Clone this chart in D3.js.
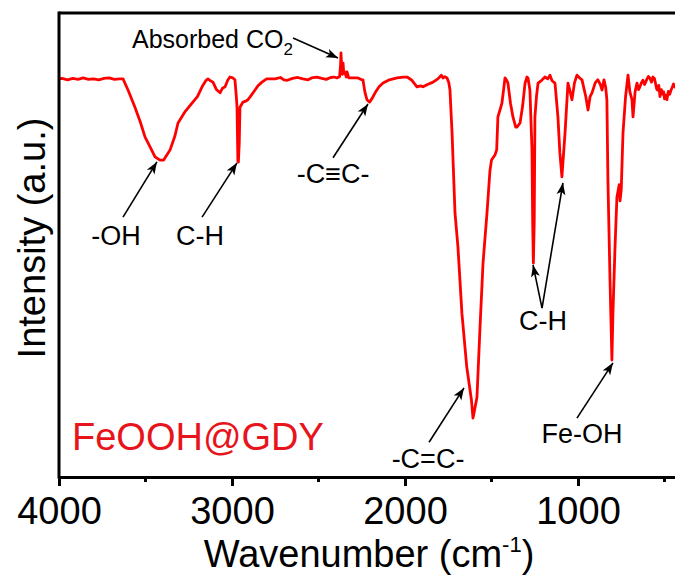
<!DOCTYPE html>
<html>
<head>
<meta charset="utf-8">
<script src="https://cdn.jsdelivr.net/npm/d3@7"></script>
<style>
  body { margin: 0; background: #fff; }
  svg { font-family: "Liberation Sans", Arial, sans-serif; }
</style>
</head>
<body>
<div id="chart"></div>
<script>
// FTIR spectrum of FeOOH@GDY
const wavenumber = [
  4000, 3983, 3950, 3920, 3890, 3860, 3830, 3800, 3770, 3740, 3710, 3680, 3650, 3630,
  3601, 3561, 3530, 3503, 3470, 3445, 3416, 3395, 3358, 3330, 3312, 3270, 3231, 3200,
  3173, 3150, 3139, 3125, 3110, 3090, 3069, 3055, 3040, 3025, 3012, 2995, 2983, 2975,
  2971, 2966, 2963, 2958, 2954, 2936, 2920, 2908, 2890, 2867, 2850, 2827, 2800, 2751,
  2720, 2700, 2680, 2650, 2620, 2590, 2560, 2540, 2510, 2480, 2455, 2430, 2410,
  2393, 2378, 2372, 2370, 2366, 2362, 2358, 2354,
  2347, 2340, 2335, 2325, 2318, 2290, 2272, 2250, 2243, 2232, 2220, 2205, 2190, 2173,
  2150, 2127, 2090, 2046, 2010, 1988, 1960, 1931, 1910, 1896, 1870, 1838, 1810, 1790,
  1780, 1770, 1757, 1747, 1740, 1728, 1711, 1694, 1671, 1643, 1616, 1607, 1600, 1584,
  1567, 1549, 1526, 1509, 1500, 1480, 1470, 1463, 1451, 1440, 1430, 1422, 1412, 1405,
  1390, 1376, 1360, 1353, 1335, 1320, 1306, 1295, 1289, 1278, 1266, 1262, 1258, 1253,
  1249, 1240, 1231, 1210, 1191, 1175, 1162, 1150, 1133, 1116, 1105, 1093, 1075, 1058,
  1045, 1035, 1020, 1006, 990, 977, 955, 942, 930, 919, 900, 885, 870, 861,
  850, 840, 833, 827, 815, 804, 798, 786, 775, 762, 757, 750, 740, 725,
  711, 700, 688, 682, 670, 659, 650, 642, 633, 625, 615, 601, 593, 585, 575, 567,
  558, 550, 545, 540, 533, 526, 518, 510, 505, 500, 493, 486, 478, 470,
  462, 455, 448, 440, 430, 420, 410, 400
];
const intensity = [
  85.8, 85.9, 85.6, 85.9, 85.7, 86.0, 85.7, 85.8, 85.6, 85.9, 86.0, 85.7, 85.8, 85.8,
  83.4, 79.7, 76.5, 73.3, 70.9, 69.0, 68.3, 68.3, 70.5, 73.5, 76.3, 78.8, 80.6, 82.0,
  84.1, 85.5, 85.8, 85.4, 85.1, 83.5, 82.8, 83.8, 84.1, 85.5, 86.2, 86.0, 85.6, 82.0,
  79.7, 68.0, 67.9, 72.0, 79.7, 80.8, 81.0, 81.3, 82.2, 83.4, 84.3, 85.1, 85.8, 85.8,
  86.1, 85.6, 85.5, 85.9, 86.1, 85.8, 85.6, 86.0, 86.2, 85.9, 85.7, 86.1, 86.2,
  86.0, 86.3, 89.0, 91.4, 88.0, 86.8, 89.2, 87.0,
  87.3, 86.2, 87.3, 86.0, 86.0, 86.0, 86.0, 85.6, 85.6, 83.0, 81.3, 80.8, 81.6, 82.8,
  84.1, 84.9, 85.6, 86.0, 86.2, 86.2, 85.5, 84.1, 84.3, 84.1, 84.6, 85.1, 85.8, 86.6,
  86.0, 86.3, 86.0, 85.0, 83.4, 74.1, 56.9, 49.6, 35.3, 23.7, 16.6, 12.7, 14.0, 17.2,
  31.7, 46.1, 56.9, 66.0, 68.3, 69.4, 70.5, 77.6, 79.1, 80.5, 83.5, 86.0, 85.5, 84.9,
  80.5, 77.6, 75.4, 75.4, 76.3, 80.0, 84.9, 86.2, 86.0, 83.4, 70.5, 55.0, 46.1, 55.0,
  77.6, 82.0, 84.9, 85.5, 86.2, 85.8, 86.6, 85.4, 84.9, 77.6, 70.0, 64.7, 74.1, 84.9,
  83.0, 81.3, 85.0, 86.6, 86.0, 85.6, 82.0, 79.1, 82.0, 82.8, 85.0, 85.6, 84.5, 83.4,
  85.6, 84.0, 81.3, 64.0, 42.5, 25.2, 35.3, 49.6, 60.3, 63.0, 59.5, 62.0, 74.1, 82.0,
  86.6, 83.0, 81.3, 77.6, 83.0, 84.9, 83.5, 84.1, 85.0, 85.5, 84.6, 85.8, 86.3, 86.0, 85.1, 86.2,
  85.9, 84.5, 83.6, 83.4, 84.4, 82.0, 83.5, 82.5, 83.0, 81.5, 82.3, 81.3, 83.1, 82.5,
  83.4, 84.0, 84.7, 84.1, 83.7, 84.5, 84.9, 84.8
];

const majorTicks = [4000, 3000, 2000, 1000];
const minorTicks = [3500, 2500, 1500, 500];

// peak labels: text, label anchor, arrow tail, arrow heads (wavenumber, intensity)
const annotations = [
  { text: '-OH',    at: [3671, 50.0], tail: [3630, 56.0], heads: [[3434, 67.9]] },
  { text: 'C-H',    at: [3185, 50.0], tail: [3173, 56.0], heads: [[2971, 67.7]] },
  { text: '-C\u2261C-', at: [2416, 63.4], tail: [2416, 68.8], heads: [[2214, 80.4]] },
  { text: '-C=C-',  at: [1867, 1.9],  tail: [1861, 7.5],  heads: [[1659, 19.2]] },
  { text: 'C-H',    at: [1202, 31.7], tail: [1208, 36.4], heads: [[1260, 45.7], [1087, 63.4]] },
  { text: 'Fe-OH',  at: [977, 7.3],   tail: [1006, 12.7], heads: [[798, 24.6]] }
];
const co2Label = { at: [3578, 92.5], tail: [2647, 94.6], head: [2387, 90.3] };
const sampleName = 'FeOOH@GDY';

const width = 675;
const height = 576;
const padLeft = 59;
const padTop = 13;
const padBottom = 477;

const svg = d3.select('#chart')
  .append('svg')
  .attr('width', width)
  .attr('height', height)

const x = d3.scaleLinear()
  .domain([4000, 400])
  .range([padLeft, padLeft + 3600 * 0.173])

const y = d3.scaleLinear()
  .domain([0, 100])
  .range([padBottom, padTop])

svg.append('defs')
  .append('marker')
  .attr('id', 'arrow')
  .attr('markerUnits', 'userSpaceOnUse')
  .attr('viewBox', '0 -5 12 10')
  .attr('refX', 12)
  .attr('refY', 0)
  .attr('markerWidth', 12)
  .attr('markerHeight', 10)
  .attr('orient', 'auto')
  .append('path')
  .attr('d', 'M0,-4.5L12,0L0,4.5L3,0Z')
  .attr('fill', '#000')

// spectrum
const line = d3.line()
  .x((d, i) => x(wavenumber[i]))
  .y(d => y(d))

svg.append('path')
  .datum(intensity)
  .attr('d', line)
  .attr('fill', 'none')
  .attr('stroke', '#ff0000')
  .attr('stroke-width', 2.8)
  .attr('stroke-linejoin', 'round')

// frame
svg.append('line')
  .attr('x1', padLeft).attr('x2', width)
  .attr('y1', padTop).attr('y2', padTop)
  .attr('stroke', '#000').attr('stroke-width', 3)

svg.append('line')
  .attr('x1', padLeft).attr('x2', padLeft)
  .attr('y1', padTop - 1.5).attr('y2', padBottom + 1.5)
  .attr('stroke', '#000').attr('stroke-width', 3)

const xAxis = d3.axisBottom(x)
  .tickValues(majorTicks)
  .tickFormat(d3.format('d'))
  .tickSize(9)
  .tickSizeOuter(0)
  .tickPadding(11)

const gx = svg.append('g')
  .attr('transform', `translate(0, ${padBottom})`)
  .call(xAxis)

gx.select('.domain').attr('stroke-width', 3)
gx.selectAll('.tick line').attr('stroke-width', 3)
gx.selectAll('.tick text')
  .attr('font-size', 38)
  .attr('font-family', '"Liberation Sans", Arial, sans-serif')
  .attr('fill', '#000')

gx.selectAll('.minor')
  .data(minorTicks)
  .enter()
  .append('line')
  .attr('x1', d => x(d)).attr('x2', d => x(d))
  .attr('y1', 0).attr('y2', 5)
  .attr('stroke', '#000')
  .attr('stroke-width', 3)

// axis titles
const xt = svg.append('text')
  .attr('x', 369)
  .attr('y', 567)
  .attr('text-anchor', 'middle')
  .attr('font-size', 38)
xt.append('tspan').text('Wavenumber (cm')
xt.append('tspan').attr('font-size', 22).attr('dy', -15).text('-1')
xt.append('tspan').attr('dy', 15).text(')')

svg.append('text')
  .attr('transform', 'translate(45, 238) rotate(-90)')
  .attr('text-anchor', 'middle')
  .attr('font-size', 38)
  .text('Intensity (a.u.)')

// peak annotations
annotations.forEach(a => {
  a.heads.forEach(h => {
    svg.append('line')
      .attr('x1', x(a.tail[0])).attr('y1', y(a.tail[1]))
      .attr('x2', x(h[0])).attr('y2', y(h[1]))
      .attr('stroke', '#000')
      .attr('stroke-width', 1.6)
      .attr('marker-end', 'url(#arrow)')
  })
  svg.append('text')
    .attr('x', x(a.at[0]))
    .attr('y', y(a.at[1]))
    .attr('text-anchor', 'middle')
    .attr('font-size', 27)
    .text(a.text)
})

const co2 = svg.append('text')
  .attr('x', x(co2Label.at[0]))
  .attr('y', y(co2Label.at[1]))
  .attr('font-size', 25)
co2.append('tspan').text('Absorbed CO')
co2.append('tspan').attr('font-size', 17).attr('dy', 7).text('2')

svg.append('line')
  .attr('x1', x(co2Label.tail[0])).attr('y1', y(co2Label.tail[1]))
  .attr('x2', x(co2Label.head[0])).attr('y2', y(co2Label.head[1]))
  .attr('stroke', '#000')
  .attr('stroke-width', 1.6)
  .attr('marker-end', 'url(#arrow)')

svg.append('text')
  .attr('x', 72)
  .attr('y', 450)
  .attr('font-size', 38)
  .attr('fill', '#e8141c')
  .text(sampleName)
</script>
</body>
</html>
